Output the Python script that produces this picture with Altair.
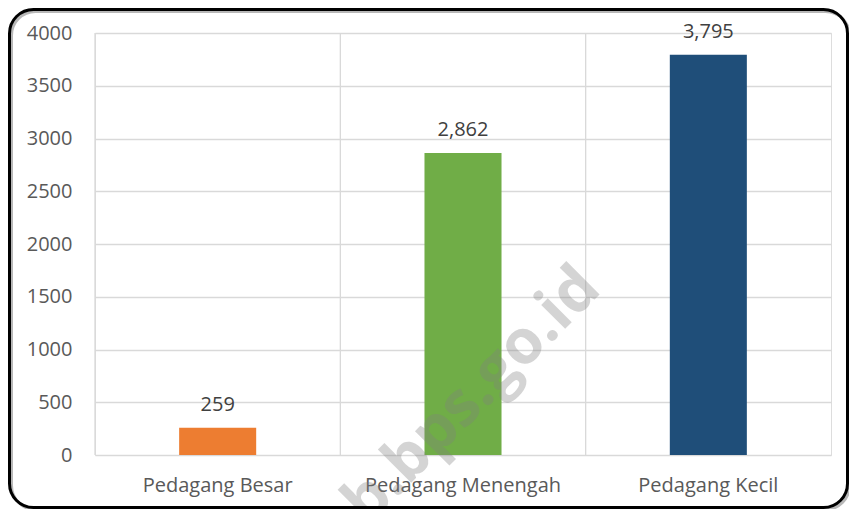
import altair as alt
import pandas as pd

categories = ["Pedagang Besar", "Pedagang Menengah", "Pedagang Kecil"]
values = [259, 2862, 3795]
colors = ["#ED7D31", "#70AD47", "#1F4E79"]
y_ticks = [0, 500, 1000, 1500, 2000, 2500, 3000, 3500, 4000]
watermark = "kab.bps.go.id"

df = pd.DataFrame({"cat": categories, "val": values})
one = pd.DataFrame({"k": [0]})

W, H = 736, 422
FONT = "Open Sans"

xscale = alt.Scale(domain=categories, paddingInner=0, paddingOuter=0)
yscale = alt.Scale(domain=[0, 4000], nice=False)

xaxis = alt.Axis(title=None, labelAngle=0, labelFont=FONT, labelFontSize=20,
                 labelColor="#595959", ticks=False, tickSize=0, domain=False,
                 grid=False, labelBaseline="alphabetic", labelPadding=36,
                 labelLimit=0)
yaxis = alt.Axis(title=None, values=y_ticks, labelFont=FONT, labelFontSize=20,
                 labelColor="#595959", ticks=False, tickSize=0, domain=False,
                 grid=True, gridColor="#d9d9d9", gridWidth=1.3,
                 labelPadding=23, format="d")

base = alt.Chart(df)

vgrid = base.mark_rule(color="#d9d9d9", strokeWidth=1.3).encode(
    x=alt.X("cat:N", scale=xscale, bandPosition=0, axis=xaxis, sort=categories)
)

bars = base.mark_bar(width=alt.RelativeBandSize(0.314)).encode(
    x=alt.X("cat:N", scale=xscale, sort=categories, axis=xaxis),
    y=alt.Y("val:Q", scale=yscale, axis=yaxis),
    color=alt.Color("cat:N", scale=alt.Scale(domain=categories, range=colors), legend=None),
)

labels = base.mark_text(font=FONT, fontSize=20, color="#404040",
                        baseline="alphabetic", dy=-17).encode(
    x=alt.X("cat:N", scale=xscale, sort=categories),
    y=alt.Y("val:Q", scale=yscale),
    text=alt.Text("val:Q", format=","),
)

shadow = alt.Chart(one).mark_rect(filled=False, stroke="#a6a6a6", strokeWidth=3,
                                  cornerRadius=24, opacity=0.8).encode(
    x=alt.value(-83.5), x2=alt.value(754.5), y=alt.value(-21.5), y2=alt.value(476.5)
)
border = alt.Chart(one).mark_rect(filled=False, stroke="black", strokeWidth=3,
                                  cornerRadius=24).encode(
    x=alt.value(-85.5), x2=alt.value(752.5), y=alt.value(-23.5), y2=alt.value(474.5)
)

wm = alt.Chart(pd.DataFrame({"t": [watermark]})).mark_text(
    font=FONT, fontWeight="bold", fontSize=62, angle=315, align="right",
    baseline="alphabetic", color="#808080", opacity=0.33
).encode(x=alt.value(508), y=alt.value(258), text="t:N")

chart = alt.layer(vgrid, bars, labels, wm, shadow, border).properties(
    width=W, height=H,
    autosize=alt.AutoSizeParams(type="none"),
    padding={"left": 87, "top": 25, "right": 18, "bottom": 54},
).configure_view(stroke="#d9d9d9", strokeWidth=1.3).configure(background="white")

chart.save("out.html", embed_options={"renderer": "svg", "actions": False})
